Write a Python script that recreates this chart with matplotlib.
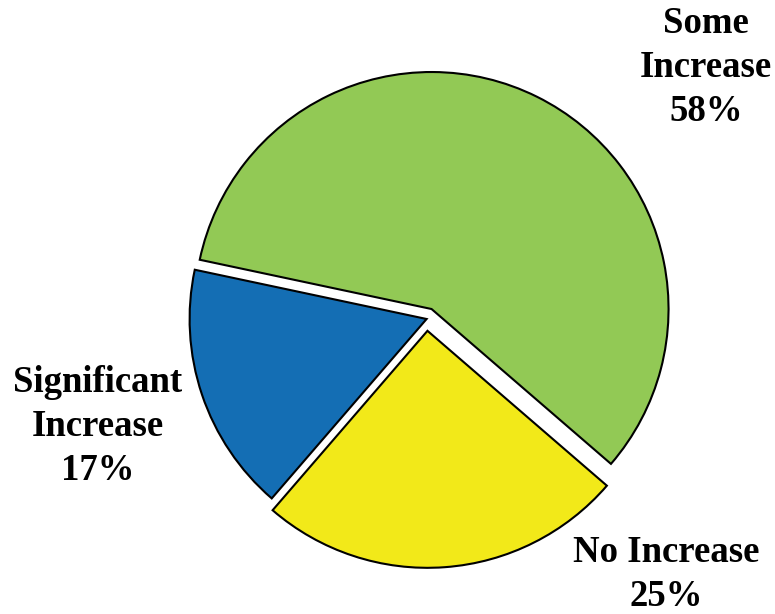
import matplotlib.pyplot as plt

# Share of responses per category
labels = ["Significant\nIncrease", "No Increase", "Some\nIncrease"]
shares = [17, 25, 58]
colors = ["#146EB4", "#F2E919", "#92C955"]
explode = [0.0, 0.05, 0.047]

plt.rcParams["font.family"] = ["Liberation Serif", "DejaVu Serif"]

W, H = 775, 614
fig = plt.figure(figsize=(W / 100, H / 100), dpi=100)
ax = fig.add_axes([0, 0, 1, 1])

wedges, _ = ax.pie(shares, colors=colors, explode=explode, startangle=168,
                   counterclock=True, radius=1.0,
                   wedgeprops=dict(edgecolor="black", linewidth=1.5))

# pixel scale: pie centre sits at (426.6, 319) px, radius 237 px
cx, cy, r = 426.6, 319.0, 237.0
ax.set_xlim(-cx / r, (W - cx) / r)
ax.set_ylim(-(H - cy) / r, cy / r)
ax.set_aspect("auto")
ax.axis("off")


def px(x, y):
    return (x - cx) / r, (cy - y) / r


# label anchor: horizontal centre and baseline of the last line, in pixels
label_pos = [(97.5, 480), (666.5, 606), (706, 121)]
for lab, val, (x, y) in zip(labels, shares, label_pos):
    tx, ty = px(x, y)
    ax.text(tx, ty, f"{lab}\n{val}%", ha="center", va="baseline",
            fontsize=26.5, fontweight="bold", linespacing=1.34)

fig.savefig("out.png", dpi=100)
